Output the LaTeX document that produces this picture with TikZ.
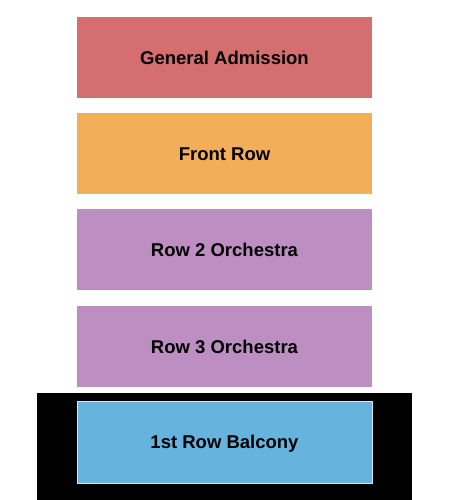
\documentclass[tikz,border=0pt]{standalone}
\usepackage{fontspec}
\setmainfont{Liberation Sans}
\definecolor{genadm}{RGB}{213,110,110}
\definecolor{frontrow}{RGB}{242,174,88}
\definecolor{orchestra}{RGB}{188,142,194}
\definecolor{balcony}{RGB}{102,180,222}
\tikzset{
  section/.style={minimum width=295pt,minimum height=81pt,inner sep=0pt,
    text height=13.2pt,text depth=0pt,
    font=\bfseries\fontsize{18.5}{22}\selectfont,text=black},
}
\begin{document}
\begin{tikzpicture}[x=1pt,y=-1pt]
    \useasboundingbox (0,0) rectangle (450,500);
    \fill[black] (37,393) rectangle (412,500);
    \node[section,fill=genadm] (ga) at (224.5,57.5) {General Admission};
    \node[section,fill=frontrow] (front) at (224.5,153.5) {Front Row};
    \node[section,fill=orchestra] (row2) at (224.5,249.5) {Row 2 Orchestra};
    \node[section,fill=orchestra] (row3) at (224.5,346.5) {Row 3 Orchestra};
    \node[section,fill=balcony,draw=white!70!balcony,line width=0.8pt,
      minimum height=82pt] (balc) at (224.5,442) {1st Row Balcony};
  \end{tikzpicture}
\end{document}
